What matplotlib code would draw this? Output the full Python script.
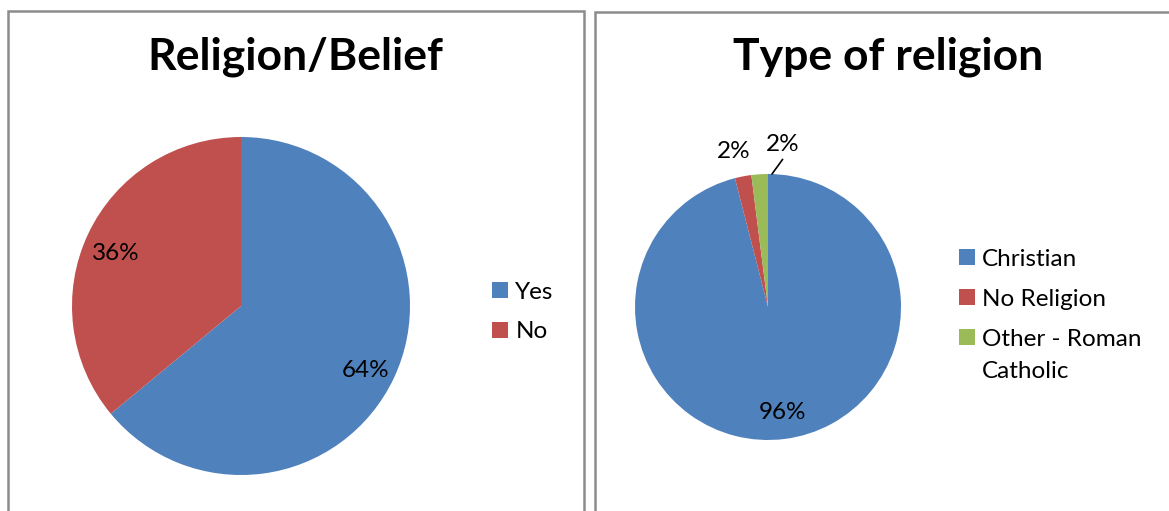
import matplotlib.pyplot as plt
from matplotlib.patches import Rectangle

plt.rcParams['font.family'] = ['Lato', 'DejaVu Sans']

# data
belief_labels = ['Yes', 'No']
belief_values = [64, 36]
religion_labels = ['Christian', 'No Religion', 'Other - Roman\nCatholic']
religion_values = [96, 2, 2]
colors = ['#4F81BD', '#C0504D', '#9BBB59']

W, H = 1169, 511
fig = plt.figure(figsize=(W / 100, H / 100), dpi=100)

# panel borders (pixel coords -> figure coords)
def px_rect(x0, y0, x1, y1, **kw):
    return Rectangle((x0 / W, 1 - y1 / H), (x1 - x0) / W, (y1 - y0) / H,
                     transform=fig.transFigure, **kw)

fig.patches.append(px_rect(8, 11, 584, 530, fill=False, edgecolor='#8c8c8c', linewidth=1.8))
fig.patches.append(px_rect(595, 12, 1190, 530, fill=False, edgecolor='#8c8c8c', linewidth=1.8))


def pie_axes(cx, cy, r):
    ax = fig.add_axes([(cx - r) / W, 1 - (cy + r) / H, 2 * r / W, 2 * r / H])
    return ax


fs = 17.5

# left pie
ax1 = pie_axes(241, 306, 169)
w1, _ = ax1.pie(belief_values, colors=colors[:2], startangle=90, counterclock=False,
                radius=1, wedgeprops=dict(linewidth=0))
ax1.set_xlim(-1, 1)
ax1.set_ylim(-1, 1)
ax1.set_aspect('equal')
ax1.axis('off')
ax1.text(0.74, -0.38, '%d%%' % belief_values[0], ha='center', va='center', fontsize=fs)
ax1.text(-0.74, 0.31, '%d%%' % belief_values[1], ha='center', va='center', fontsize=fs)

fig.text(295 / W, 1 - 57 / H, 'Religion/Belief', ha='center', va='center',
         fontsize=32, fontweight='bold')
fig.legend(w1, belief_labels, loc='center left', bbox_to_anchor=(492 / W, 1 - 312 / H),
           frameon=False, fontsize=fs, handlelength=0.66, handleheight=0.66,
           handletextpad=0.3, labelspacing=0.78, borderpad=0, borderaxespad=0)

# right pie
ax2 = pie_axes(768, 307, 133)
w2, _ = ax2.pie(religion_values, colors=colors, startangle=90, counterclock=False,
                radius=1, wedgeprops=dict(linewidth=0))
ax2.set_xlim(-1, 1)
ax2.set_ylim(-1, 1)
ax2.set_aspect('equal')
ax2.axis('off')
ax2.text(0.11, -0.79, '%d%%' % religion_values[0], ha='center', va='center', fontsize=fs)
ax2.text(-0.26, 1.17, '%d%%' % religion_values[1], ha='center', va='center', fontsize=fs)
ax2.text(0.11, 1.22, '%d%%' % religion_values[2], ha='center', va='center', fontsize=fs)
ax2.annotate('', xy=(0.03, 1.0), xytext=(0.11, 1.11),
             arrowprops=dict(arrowstyle='-', color='black', lw=1.2, shrinkA=0, shrinkB=0),
             annotation_clip=False)

fig.text(888 / W, 1 - 57 / H, 'Type of religion', ha='center', va='center',
         fontsize=32, fontweight='bold')

# legend drawn by hand so the square sits on the first line of a wrapped label
for i, (w, lab) in enumerate(zip(w2, religion_labels)):
    yc = 257 + i * 40
    fig.patches.append(px_rect(959, yc - 8, 975, yc + 8, facecolor=w.get_facecolor(),
                               edgecolor='none'))
    for j, line in enumerate(lab.split('\n')):
        fig.text(982 / W, 1 - (yc + j * 33) / H, line, ha='left', va='center_baseline',
                 fontsize=fs)

fig.savefig('out.png', dpi=100, facecolor='white')
